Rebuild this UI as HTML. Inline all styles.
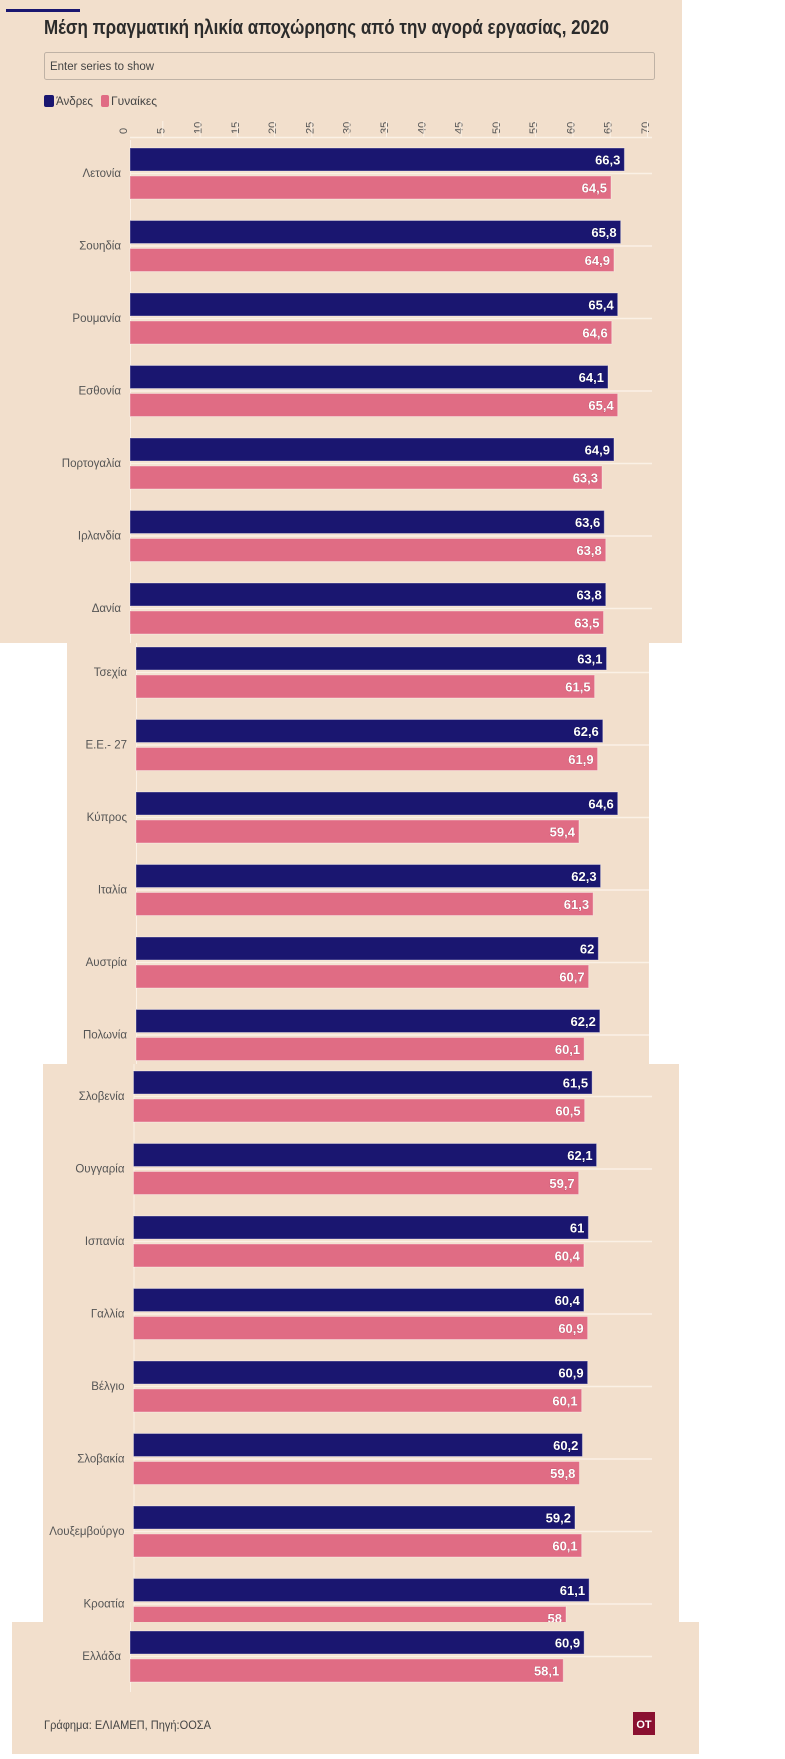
<!DOCTYPE html>
<html><head><meta charset="utf-8">
<style>
html,body{margin:0;padding:0;background:#fff;width:785px;height:1759px;overflow:hidden}
svg{display:block;font-family:"Liberation Sans","DejaVu Sans",sans-serif}
</style></head>
<body>
<svg id="chart" width="785" height="1759" viewBox="0 0 785 1759" xmlns="http://www.w3.org/2000/svg">
<g id="bg">
<rect x="0" y="0" width="682" height="643" fill="#f2dfcc"/>
<rect x="67" y="643" width="582" height="421" fill="#f2dfcc"/>
<rect x="43" y="1064" width="636" height="558" fill="#f2dfcc"/>
<rect x="12" y="1622" width="687" height="132" fill="#f2dfcc"/>
</g>
<rect x="6" y="9" width="74" height="3" fill="#1a1670"/>
<text x="44" y="34" font-size="20" font-weight="bold" fill="#2b2b2b" textLength="565" lengthAdjust="spacingAndGlyphs">Μέση πραγματική ηλικία αποχώρησης από την αγορά εργασίας, 2020</text>
<g>
<rect x="44.5" y="52.5" width="610" height="27" rx="2" fill="#f2dfcc" stroke="#bfb2a5"/>
<text x="50" y="70" font-size="11.5" fill="#444" textLength="104" lengthAdjust="spacingAndGlyphs">Enter series to show</text>
</g>
<g>
<rect x="44" y="95" width="10" height="12" rx="2" fill="#1a1670"/>
<text x="56" y="105" font-size="11.5" fill="#444" textLength="37" lengthAdjust="spacingAndGlyphs">Άνδρες</text>
</g>
<g>
<rect x="101" y="95" width="8" height="12" rx="2" fill="#e06c84"/>
<text x="111" y="105" font-size="11.5" fill="#444" textLength="46" lengthAdjust="spacingAndGlyphs">Γυναίκες</text>
</g>
<g id="axis"></g>
<g id="bars"></g>
<text x="44" y="1729" font-size="11.5" fill="#444" textLength="167" lengthAdjust="spacingAndGlyphs">Γράφημα: ΕΛΙΑΜΕΠ, Πηγή:ΟΟΣΑ</text>
<g>
<rect x="633" y="1712" width="22" height="23" fill="#8a1030"/>
<text x="644" y="1728" font-size="11" font-weight="bold" fill="#fff" text-anchor="middle">OT</text>
</g>
</svg>
<script>
const countries = ["Λετονία","Σουηδία","Ρουμανία","Εσθονία","Πορτογαλία","Ιρλανδία","Δανία","Τσεχία","Ε.Ε.- 27","Κύπρος","Ιταλία","Αυστρία","Πολωνία","Σλοβενία","Ουγγαρία","Ισπανία","Γαλλία","Βέλγιο","Σλοβακία","Λουξεμβούργο","Κροατία","Ελλάδα"];
const men = [66.3,65.8,65.4,64.1,64.9,63.6,63.8,63.1,62.6,64.6,62.3,62,62.2,61.5,62.1,61,60.4,60.9,60.2,59.2,61.1,60.9];
const women = [64.5,64.9,64.6,65.4,63.3,63.8,63.5,61.5,61.9,59.4,61.3,60.7,60.1,60.5,59.7,60.4,60.9,60.1,59.8,60.1,58,58.1];
const ticks = [0,5,10,15,20,25,30,35,40,45,50,55,60,65,70];

const NS = "http://www.w3.org/2000/svg";
const PXU = 7.457;
const panels = [
  {x0:130, top:148, from:0, to:6, clipTop:140, clipBot:643, right:652},
  {x0:136, top:647, from:7, to:12, clipTop:643, clipBot:1064, right:649},
  {x0:133.5, top:1071, from:13, to:20, clipTop:1064, clipBot:1622, right:652},
  {x0:130, top:1631, from:21, to:21, clipTop:1622, clipBot:1754, right:652}
];
const PITCH = 72.5, BH = 23, GAP = 5;
function el(tag, attrs, parent){const e=document.createElementNS(NS,tag);for(const k in attrs)e.setAttribute(k,attrs[k]);parent.appendChild(e);return e;}
const axis = document.getElementById('axis');
const bars = document.getElementById('bars');
const defs = el('defs',{},document.getElementById('chart'));
function xs(p,v){return p.x0+v*PXU;}

const p0 = panels[0];
ticks.forEach(t=>{
  const x = xs(p0,t);
  const tl = el('text',{x:0,y:0,'font-size':11,fill:'#555','text-anchor':'start',transform:`translate(${x-3},${134}) rotate(-90)`},axis);
  tl.textContent = t;
  
  
  if(t>0){
    const gl = el('line',{x1:x-5+0.5,x2:x-5+0.5,y1:121,y2:137,stroke:'#fbf1e6','stroke-width':1},axis);
    
    
  }
});
el('line',{x1:p0.x0,x2:652,y1:137.5,y2:137.5,stroke:'#fbf1e6','stroke-width':1.5},axis);

panels.forEach((p,pi)=>{
  const cp = el('clipPath',{id:'cp'+pi},defs);
  el('rect',{x:0,y:p.clipTop,width:785,height:p.clipBot-p.clipTop},cp);
  const g = el('g',{'clip-path':`url(#cp${pi})`},bars);
  el('line',{x1:p.x0+0.5,x2:p.x0+0.5,y1:p.clipTop,y2:p.clipBot-(pi==3?62:0),stroke:'#fbf1e6','stroke-width':1},g);
  for(let i=p.from;i<=p.to;i++){
    const top = p.top+(i-p.from)*PITCH;
    const grp = el('g',{},g);
    
    
    el('line',{x1:p.x0,x2:p.right,y1:top+BH+2.5,y2:top+BH+2.5,stroke:'#fbf1e6','stroke-width':1.5},grp);
    const lab = el('text',{x:p.x0-9,y:top+BH+6,'font-size':11.5,fill:'#555','text-anchor':'end'},grp);
    lab.textContent = countries[i];
    
    
    [[men[i],'#1a1670',top,'bar-men'],[women[i],'#e06c84',top+BH+GAP,'bar-women']].forEach(([v,c,y,nm])=>{
      const r = el('rect',{x:p.x0,y:y,width:xs(p,v)-p.x0,height:BH,fill:c,stroke:'#ffffff','stroke-opacity':0.35,'stroke-width':1},grp);
      
      
      const vt = el('text',{x:xs(p,v)-4,y:y+16.5,'font-size':13,'font-weight':'bold',fill:'#fff','text-anchor':'end',stroke:c=='#1a1670'?'#0a0840':'#b04a60','stroke-width':0.6,'paint-order':'stroke'},grp);
      vt.textContent = String(v).replace('.',',');
      
      
    });
  }
});
</script>
</body></html>
